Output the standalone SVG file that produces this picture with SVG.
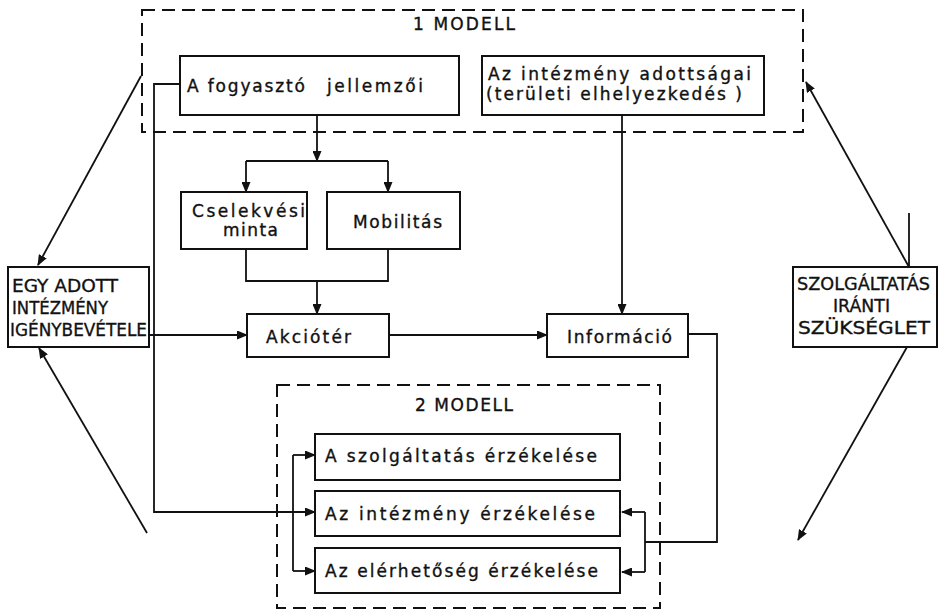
<svg xmlns="http://www.w3.org/2000/svg" width="939" height="610" viewBox="0 0 939 610">
<defs>
<marker id="ah" markerUnits="userSpaceOnUse" markerWidth="11" markerHeight="9" refX="10" refY="4.5" orient="auto">
<path d="M0,0 L11,4.5 L0,9 z" fill="#111"/>
</marker>
</defs>
<style>
.box{fill:#fff;stroke:#111;stroke-width:2}
.dash{fill:none;stroke:#111;stroke-width:2;stroke-dasharray:13 7}
.ln{fill:none;stroke:#111;stroke-width:1.8}
.ar{fill:none;stroke:#111;stroke-width:1.8;marker-end:url(#ah)}
text{font-family:"DejaVu Sans","Liberation Sans",sans-serif;font-size:17px;fill:#111;stroke:#111;stroke-width:0.35}
.cap{font-size:18px}
</style>
<rect width="939" height="610" fill="#fff"/>

<g id="modell1">
<rect class="dash" x="142" y="10" width="661" height="122"/>
<text x="413" y="30" textLength="102" lengthAdjust="spacing">1 MODELL</text>
</g>
<g id="modell2">
<rect class="dash" x="277" y="385" width="383" height="223"/>
<text x="415" y="411" textLength="98" lengthAdjust="spacing">2 MODELL</text>
</g>

<g id="connectors">
<path class="ar" d="M317,115 V161"/>
<path class="ln" d="M246,161 H388"/>
<path class="ar" d="M246,161 V192"/>
<path class="ar" d="M388,161 V192"/>
<path class="ln" d="M246,249 V281 H388 V249"/>
<path class="ar" d="M317,281 V314"/>
<path class="ar" d="M149,335 H247"/>
<path class="ar" d="M389,335 H547"/>
<path class="ar" d="M622,115 V314"/>
<path class="ln" d="M688,334 H717 V542 H645"/>
<path class="ln" d="M645,512 V572"/>
<path class="ar" d="M645,512 H622"/>
<path class="ar" d="M645,572 H622"/>
<path class="ar" d="M180,84 H154 V512 H315"/>
<path class="ln" d="M293,455 V571"/>
<path class="ar" d="M293,455 H315"/>
<path class="ar" d="M293,571 H315"/>
<path class="ar" d="M141,76 L38,265"/>
<path class="ar" d="M147,533 L39,348"/>
<path class="ar" d="M909,267 L806,82"/>
<path class="ar" d="M907,347 L798,540"/>
<path class="ln" d="M909,213 V267"/>
</g>

<g id="fogyaszto">
<rect class="box" x="180" y="56" width="279" height="59"/>
<text x="187" y="92" textLength="118" lengthAdjust="spacing">A fogyasztó</text>
<text x="327" y="92" textLength="96" lengthAdjust="spacing">jellemzői</text>
</g>
<g id="intezmeny-adottsagai">
<rect class="box" x="482" y="56" width="282" height="59"/>
<text x="488" y="80" textLength="263" lengthAdjust="spacing">Az intézmény adottságai</text>
<text x="486" y="100" textLength="256" lengthAdjust="spacing">(területi elhelyezkedés )</text>
</g>
<g id="cselekvesi">
<rect class="box" x="181" y="192" width="126" height="57"/>
<text x="192" y="217" textLength="113" lengthAdjust="spacing">Cselekvési</text>
<text x="223" y="236" textLength="55" lengthAdjust="spacing">minta</text>
</g>
<g id="mobilitas">
<rect class="box" x="327" y="192" width="133" height="57"/>
<text x="353" y="228" textLength="89" lengthAdjust="spacing">Mobilitás</text>
</g>
<g id="akcioter">
<rect class="box" x="247" y="314" width="142" height="43"/>
<text x="266" y="343" textLength="85" lengthAdjust="spacing">Akciótér</text>
</g>
<g id="informacio">
<rect class="box" x="547" y="314" width="141" height="43"/>
<text x="567" y="343" textLength="105" lengthAdjust="spacing">Információ</text>
</g>
<g id="egy-adott">
<rect class="box" x="8" y="267" width="141" height="80"/>
<text class="cap" x="12" y="292" textLength="106" lengthAdjust="spacingAndGlyphs">EGY ADOTT</text>
<text class="cap" x="12" y="314" textLength="96" lengthAdjust="spacingAndGlyphs">INTÉZMÉNY</text>
<text class="cap" x="10" y="336" textLength="137" lengthAdjust="spacingAndGlyphs">IGÉNYBEVÉTELE</text>
</g>
<g id="szolgaltatas-iranti">
<rect class="box" x="793" y="267" width="144" height="80"/>
<text class="cap" x="797" y="290" textLength="133" lengthAdjust="spacingAndGlyphs">SZOLGÁLTATÁS</text>
<text class="cap" x="833" y="312" textLength="57" lengthAdjust="spacingAndGlyphs">IRÁNTI</text>
<text class="cap" x="798" y="334" textLength="132" lengthAdjust="spacingAndGlyphs">SZÜKSÉGLET</text>
</g>
<g id="szolgaltatas-erzekelese">
<rect class="box" x="315" y="434" width="305" height="46"/>
<text x="325" y="462" textLength="272" lengthAdjust="spacing">A szolgáltatás érzékelése</text>
</g>
<g id="intezmeny-erzekelese">
<rect class="box" x="315" y="491" width="305" height="45"/>
<text x="325" y="520" textLength="270" lengthAdjust="spacing">Az intézmény érzékelése</text>
</g>
<g id="elerhetoseg-erzekelese">
<rect class="box" x="315" y="548" width="305" height="45"/>
<text x="325" y="577" textLength="273" lengthAdjust="spacing">Az elérhetőség érzékelése</text>
</g>
</svg>
